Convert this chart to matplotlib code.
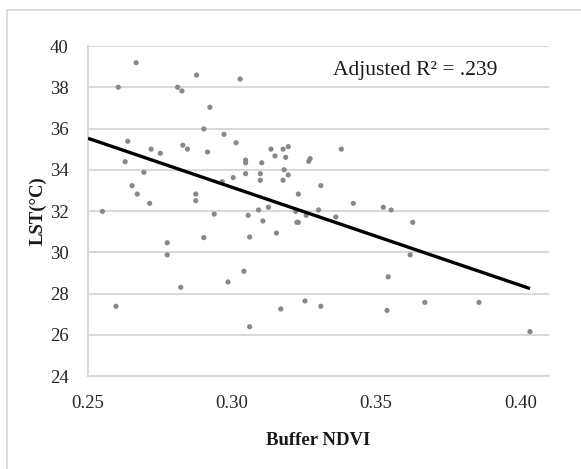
import matplotlib
matplotlib.use("Agg")
import matplotlib.pyplot as plt
from matplotlib.lines import Line2D
import numpy as np

ndvi = [0.2667, 0.2605, 0.2811, 0.2826, 0.2877, 0.3028, 0.2923, 0.2902, 0.2972, 0.3014,
        0.2638, 0.2829, 0.2845, 0.2719, 0.2751, 0.2915, 0.2629, 0.2694, 0.2653, 0.2671,
        0.2714, 0.2874, 0.2874, 0.2550, 0.2938, 0.2966, 0.3004, 0.3047, 0.3047, 0.3047,
        0.3103, 0.3098, 0.3098, 0.3135, 0.3149, 0.3177, 0.3195, 0.3186, 0.3181, 0.3195,
        0.3177, 0.3230, 0.3092, 0.3126, 0.3056, 0.3107, 0.3221, 0.3225, 0.3154, 0.2902,
        0.3061, 0.3271, 0.3266, 0.3379, 0.3308, 0.3421, 0.3525, 0.3552, 0.3627, 0.3300,
        0.3257, 0.3360, 0.2775, 0.2775, 0.2822, 0.2597, 0.2986, 0.3041, 0.3061, 0.3169,
        0.3618, 0.3542, 0.3253, 0.3308, 0.3538, 0.3669, 0.3857, 0.4034, 0.3230]
lst = [39.19, 38.00, 38.00, 37.82, 38.59, 38.40, 37.03, 35.98, 35.72, 35.31,
       35.38, 35.19, 35.00, 35.00, 34.80, 34.86, 34.39, 33.88, 33.23, 32.82,
       32.37, 32.82, 32.50, 31.98, 31.85, 33.42, 33.62, 34.47, 34.34, 33.81,
       34.34, 33.81, 33.49, 35.00, 34.67, 35.00, 35.12, 34.60, 34.00, 33.75,
       33.49, 32.82, 32.05, 32.18, 31.79, 31.52, 31.98, 31.45, 30.93, 30.71,
       30.74, 34.54, 34.41, 35.00, 33.23, 32.37, 32.18, 32.05, 31.45, 32.05,
       31.79, 31.71, 30.46, 29.87, 28.30, 27.38, 28.56, 29.08, 26.39, 27.25,
       29.87, 28.81, 27.64, 27.38, 27.18, 27.57, 27.57, 26.15, 31.45]

trend_x = [0.25, 0.4034]
trend_slope = -47.5
trend_intercept = 47.40

x_ticks = [0.25, 0.30, 0.35, 0.40]
x_tick_labels = ["0.25", "0.30", "0.35", "0.40"]
y_ticks = [24, 26, 28, 30, 32, 34, 36, 38, 40]

plt.rcParams['font.family'] = ['Liberation Serif', 'DejaVu Serif']

W, H = 581, 469
fig = plt.figure(figsize=(W / 100, H / 100), dpi=100)
fig.patch.set_facecolor('white')

grid_c = '#d9d9d9'
# outer chart border (left and top visible)
fig.add_artist(Line2D([7 / W, 7 / W], [0, 1 - 10 / H], color=grid_c, lw=1.3, transform=fig.transFigure))
fig.add_artist(Line2D([7 / W, 1.0], [1 - 10 / H, 1 - 10 / H], color=grid_c, lw=1.3, transform=fig.transFigure))

ax = fig.add_axes([88 / W, 1 - 376 / H, (549 - 88) / W, (376 - 46) / H])
ax.set_xlim(0.25, 0.41)
ax.set_ylim(24, 40)
ax.set_xticks(x_ticks)
ax.set_xticklabels(x_tick_labels)
ax.set_yticks(y_ticks)
ax.tick_params(length=0, labelsize=13.5, colors='#262626')
ax.tick_params(axis='y', pad=14)
ax.tick_params(axis='x', pad=14)
for s in ['top', 'right']:
    ax.spines[s].set_visible(False)
for s in ['left', 'bottom']:
    ax.spines[s].set_color(grid_c)
    ax.spines[s].set_linewidth(1.5)
ax.grid(axis='y', color=grid_c, lw=1.5)
ax.set_axisbelow(True)

ax.scatter(ndvi, lst, s=14, color='#888888', edgecolors='none', zorder=3)
tx = np.array(trend_x)
ax.plot(tx, trend_intercept + trend_slope * tx, color='black', lw=2.4, zorder=4, solid_capstyle='butt')

ax.text(0.3635, 38.83, "Adjusted R\u00b2 = .239", fontsize=15.5, ha='center', va='center',
        color='#1a1a1a',
        bbox=dict(facecolor='white', edgecolor='none', pad=3), zorder=5)

ax.set_xlabel("Buffer NDVI", fontsize=13.5, fontweight='bold', labelpad=14, color='#1a1a1a')
ax.set_ylabel("LST(°C)", fontsize=13.5, fontweight='bold', labelpad=2, color='#1a1a1a')

fig.savefig("out.png", dpi=100, facecolor='white')
